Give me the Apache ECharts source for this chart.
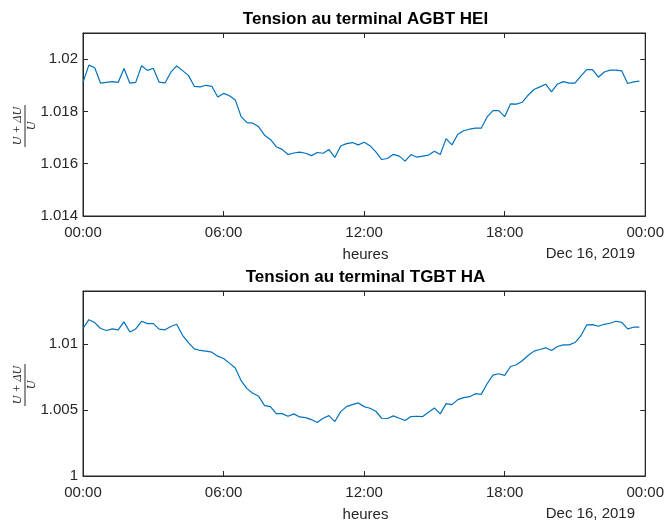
<!DOCTYPE html>
<html><head><meta charset="utf-8">
<script src="https://cdn.jsdelivr.net/npm/echarts@6/dist/echarts.min.js"></script>
<style>html,body{margin:0;padding:0;background:#fff}#c{width:667px;height:522px}</style>
</head><body><div id="c"></div>
<script>
const titles = ['Tension au terminal AGBT HEI', 'Tension au terminal TGBT HA'];
const xName = 'heures';
const dateLabel = 'Dec 16, 2019';
const stepHours = 0.25; // 15-minute samples
const yRanges = [[1.014, 1.021, 0.002], [1.0, 1.014, 0.005]];

const agbtHEI = [
1.01911,1.01977,1.01967,1.01908,1.01911,1.01914,1.01911,1.01964,1.01908,1.01911,
1.01975,1.01957,1.01965,1.01912,1.01909,1.01950,1.01974,1.01956,1.01938,1.01896,
1.01894,1.01900,1.01896,1.01855,1.01869,1.01860,1.01844,1.01780,1.01757,1.01755,
1.01741,1.01709,1.01693,1.01665,1.01655,1.01635,1.01641,1.01644,1.01640,1.01631,
1.01643,1.01640,1.01654,1.01624,1.01668,1.01677,1.01681,1.01672,1.01682,1.01669,
1.01645,1.01616,1.01620,1.01636,1.01629,1.01610,1.01635,1.01625,1.01629,1.01633,
1.01648,1.01635,1.01696,1.01672,1.01713,1.01726,1.01732,1.01736,1.01736,1.01779,
1.01803,1.01803,1.01780,1.01829,1.01828,1.01835,1.01862,1.01884,1.01894,1.01904,
1.01875,1.01904,1.01914,1.01908,1.01908,1.01935,1.01960,1.01960,1.01931,1.01951,
1.01958,1.01958,1.01955,1.01907,1.01913,1.01916
];
const tgbtHA = [
1.01116,1.01183,1.01161,1.01116,1.01101,1.01113,1.01106,1.01166,1.01090,1.01113,
1.01171,1.01153,1.01153,1.01111,1.01106,1.01131,1.01148,1.01065,1.01010,1.00962,
1.00950,1.00945,1.00937,1.00907,1.00889,1.00854,1.00817,1.00721,1.00661,1.00626,
1.00603,1.00533,1.00525,1.00472,1.00472,1.00452,1.00470,1.00447,1.00442,1.00427,
1.00405,1.00437,1.00457,1.00412,1.00487,1.00525,1.00540,1.00553,1.00525,1.00513,
1.00490,1.00437,1.00435,1.00455,1.00437,1.00420,1.00450,1.00452,1.00450,1.00482,
1.00515,1.00470,1.00548,1.00540,1.00578,1.00593,1.00600,1.00623,1.00618,1.00698,
1.00764,1.00774,1.00761,1.00829,1.00842,1.00872,1.00912,1.00945,1.00957,1.00970,
1.00950,1.00980,1.00992,1.00992,1.01010,1.01060,1.01143,1.01146,1.01133,1.01148,
1.01156,1.01171,1.01163,1.01113,1.01126,1.01126
];
const seriesList = [agbtHEI, tgbtHA];

const TXT = '#262626';
const FONT = 'Liberation Sans, Arial, sans-serif';
const SERIF = 'italic 12px Liberation Serif, DejaVu Serif, serif';
const grids = [
  {left: 83, right: 19, top: 33, height: 183},
  {left: 83, right: 19, top: 291, height: 185}
];
const chart = echarts.init(document.getElementById('c'), null, {renderer: 'canvas'});

const xAxes = [], yAxes = [], series = [], graphics = [];
function fmtX(v) { const h = Math.round(v) % 24; return (h < 10 ? '0' : '') + h + ':00'; }
grids.forEach((g, gi) => {
  const [ymin, ymax, yint] = yRanges[gi];
  const baseX = {gridIndex: gi, type: 'value', min: 0, max: 24, interval: 6,
    axisLine: {show: true, onZero: false, lineStyle: {color: TXT, width: 1}},
    axisTick: {show: true, inside: true, length: 5, lineStyle: {color: TXT}},
    splitLine: {show: false}};
  xAxes.push(Object.assign({}, baseX, {position: 'bottom',
    axisLabel: {show: true, margin: 9, color: TXT, fontSize: 15, fontFamily: FONT, formatter: fmtX}}));
  xAxes.push(Object.assign({}, baseX, {position: 'top', axisLabel: {show: false}}));
  const baseY = {gridIndex: gi, type: 'value', min: ymin, max: ymax, interval: yint,
    axisLine: {show: true, onZero: false, lineStyle: {color: TXT, width: 1}},
    axisTick: {show: true, inside: true, length: 5, lineStyle: {color: TXT}},
    splitLine: {show: false}};
  yAxes.push(Object.assign({}, baseY, {position: 'left',
    axisLabel: {show: true, margin: 5, color: TXT, fontSize: 15, fontFamily: FONT, showMaxLabel: false,
      formatter: v => {
        const k = Math.round((v - ymin) / yint);
        if (Math.abs(ymin + k * yint - v) > 1e-9) return '';
        return String(parseFloat(v.toFixed(3)));
      }}}));
  yAxes.push(Object.assign({}, baseY, {position: 'right', axisLabel: {show: false}}));
  series.push({type: 'line', xAxisIndex: gi * 2, yAxisIndex: gi * 2,
    data: seriesList[gi].map((v, i) => [i * stepHours, v]),
    showSymbol: false, symbol: 'none', lineStyle: {color: '#0072BD', width: 1.2},
    animation: false});
  const top = g.top, bottom = g.top + g.height;
  const cx = g.left + (667 - g.left - g.right) / 2;
  graphics.push({type: 'text', x: cx, y: top - 14, style: {text: titles[gi], fill: '#000',
    font: 'bold 17px ' + FONT, textAlign: 'center', textVerticalAlign: 'middle'}});
  graphics.push({type: 'text', x: cx, y: bottom + 39, style: {text: xName, fill: TXT,
    font: '15px ' + FONT, textAlign: 'center', textVerticalAlign: 'middle'}});
  graphics.push({type: 'text', x: 635, y: bottom + 38, style: {text: dateLabel, fill: TXT,
    font: '15px ' + FONT, textAlign: 'right', textVerticalAlign: 'middle'}});
  graphics.push({type: 'group', x: 25, y: top + g.height / 2 + 1.5, rotation: Math.PI / 2, children: [
    {type: 'text', x: 0, y: -1, style: {text: 'U + ΔU', fill: TXT, font: SERIF, textAlign: 'center', textVerticalAlign: 'bottom'}},
    {type: 'line', shape: {x1: -21, y1: 0, x2: 21, y2: 0}, style: {stroke: TXT, lineWidth: 1}},
    {type: 'text', x: 0, y: 1, style: {text: 'U', fill: TXT, font: SERIF, textAlign: 'center', textVerticalAlign: 'top'}}
  ]});
});

chart.setOption({
  backgroundColor: '#fff',
  animation: false,
  grid: grids.map(g => Object.assign({show: true, borderColor: TXT, borderWidth: 1, containLabel: false}, g)),
  xAxis: xAxes,
  yAxis: yAxes,
  series: series,
  graphic: graphics
});
</script></body></html>
